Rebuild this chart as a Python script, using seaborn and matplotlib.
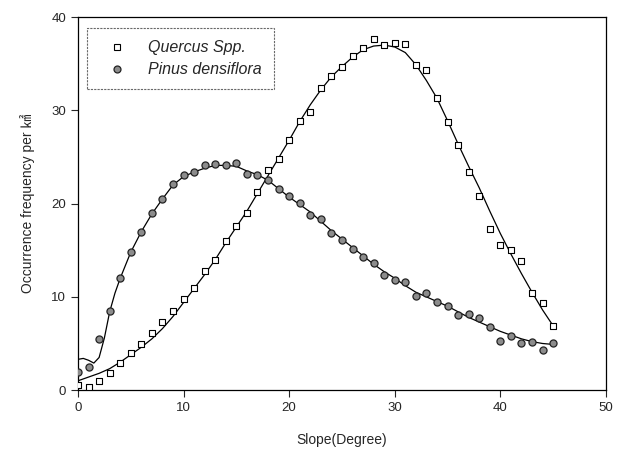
import numpy as np
import pandas as pd
import seaborn as sns
import matplotlib.pyplot as plt
from matplotlib.lines import Line2D

# observed points (slope in degrees, occurrence per km2)
slope = list(range(0, 46))
quercus = [0.5, 0.3, 1.0, 1.8, 2.9, 4.0, 4.9, 6.1, 7.3, 8.5,
           9.75, 10.9, 12.8, 14.0, 16.0, 17.6, 19.0, 21.3, 23.6, 24.8,
           26.8, 28.9, 29.8, 32.4, 33.7, 34.6, 35.8, 36.7, 37.7, 37.0,
           37.2, 37.1, 34.9, 34.3, 31.3, 28.8, 26.3, 23.4, 20.8, 17.3,
           15.6, 15.0, 13.8, 10.4, 9.3, 6.9]
pinus = [1.9, 2.5, 5.5, 8.5, 12.0, 14.8, 17.0, 19.0, 20.5, 22.1,
         23.1, 23.4, 24.1, 24.3, 24.1, 24.4, 23.2, 23.1, 22.5, 21.6,
         20.8, 20.1, 18.8, 18.3, 16.9, 16.1, 15.1, 14.3, 13.6, 12.3,
         11.8, 11.6, 10.1, 10.4, 9.5, 9.0, 8.1, 8.2, 7.7, 6.75,
         5.3, 5.75, 5.1, 5.2, 4.3, 5.0]

# fitted curves
quercus_fit = [1.0, 1.4, 1.8, 2.3, 3.0, 3.8, 4.6, 5.5, 6.6, 7.9,
               9.4, 10.9, 12.4, 14.0, 15.8, 17.5, 19.2, 21.1, 23.0, 24.9,
               26.8, 28.8, 30.6, 32.2, 33.6, 34.7, 35.7, 36.5, 36.9, 37.0,
               36.8, 36.2, 34.9, 33.2, 31.3, 28.9, 26.4, 24.0, 21.7, 19.2,
               16.8, 14.6, 12.5, 10.5, 8.6, 6.9]
pinus_fit_x = [0, 0.5, 1, 1.5, 2, 2.5, 3, 3.5] + list(range(4, 46))
pinus_fit = [3.3, 3.4, 3.2, 2.9, 3.5, 5.6, 8.4, 10.4,
             12.0, 14.8, 17.0, 18.9, 20.5, 22.0, 22.9, 23.4, 23.8, 24.1,
             24.1, 24.0, 23.5, 23.1, 22.5, 21.6, 20.7, 19.9, 19.1, 18.1,
             17.1, 16.2, 15.3, 14.4, 13.5, 12.7, 12.0, 11.2, 10.5, 10.0,
             9.5, 9.0, 8.4, 7.8, 7.3, 6.8, 6.3, 5.9, 5.5, 5.2,
             5.0, 4.9]

sns.set_style("ticks")
plt.rcParams["font.family"] = ["Liberation Sans", "Noto Sans CJK KR", "DejaVu Sans"]

fig = plt.figure(figsize=(6.24, 4.51), dpi=100)
ax = fig.add_axes([0.125, 0.135, 0.846, 0.827])

sns.lineplot(x=slope, y=quercus_fit, color="black", linewidth=0.9, ax=ax)
sns.lineplot(x=pinus_fit_x, y=pinus_fit, color="black", linewidth=0.9, ax=ax)
sns.scatterplot(x=slope, y=quercus, marker="s", s=18, facecolor="white",
                edgecolor="black", linewidth=0.8, ax=ax, zorder=3)
sns.scatterplot(x=slope, y=pinus, marker="o", s=26, color="#8c8c8c",
                edgecolor="#222222", linewidth=0.9, ax=ax, zorder=3)

ax.set_xlim(0, 50)
ax.set_ylim(0, 40)
ax.set_xticks([0, 10, 20, 30, 40, 50])
ax.set_yticks([0, 10, 20, 30, 40])
ax.tick_params(direction="out", length=5, width=0.8, labelsize=9.5)
for s in ax.spines.values():
    s.set_visible(True)
    s.set_linewidth(0.9)
    s.set_color("black")

ax.set_xlabel("Slope(Degree)", fontsize=10, labelpad=14)
ax.set_ylabel("Occurrence frequency per ㎢", fontsize=10, labelpad=12)

handles = [
    Line2D([], [], linestyle="", marker="s", markersize=4, markerfacecolor="white",
           markeredgecolor="black", markeredgewidth=0.8),
    Line2D([], [], linestyle="", marker="o", markersize=5, markerfacecolor="#8c8c8c",
           markeredgecolor="#222222", markeredgewidth=0.9),
]
leg = ax.legend(handles, ["Quercus Spp.", "Pinus densiflora"], loc="upper left",
                bbox_to_anchor=(0.017, 0.97), prop={"style": "italic", "size": 11.5},
                frameon=True, fancybox=False, edgecolor="#444444",
                handlelength=2.2, handletextpad=0.9, borderpad=0.75, labelspacing=0.45,
                borderaxespad=0)
leg.get_frame().set_linewidth(0.8)
leg.get_frame().set_linestyle((0, (2, 1)))

fig.savefig("out.png", dpi=100)
